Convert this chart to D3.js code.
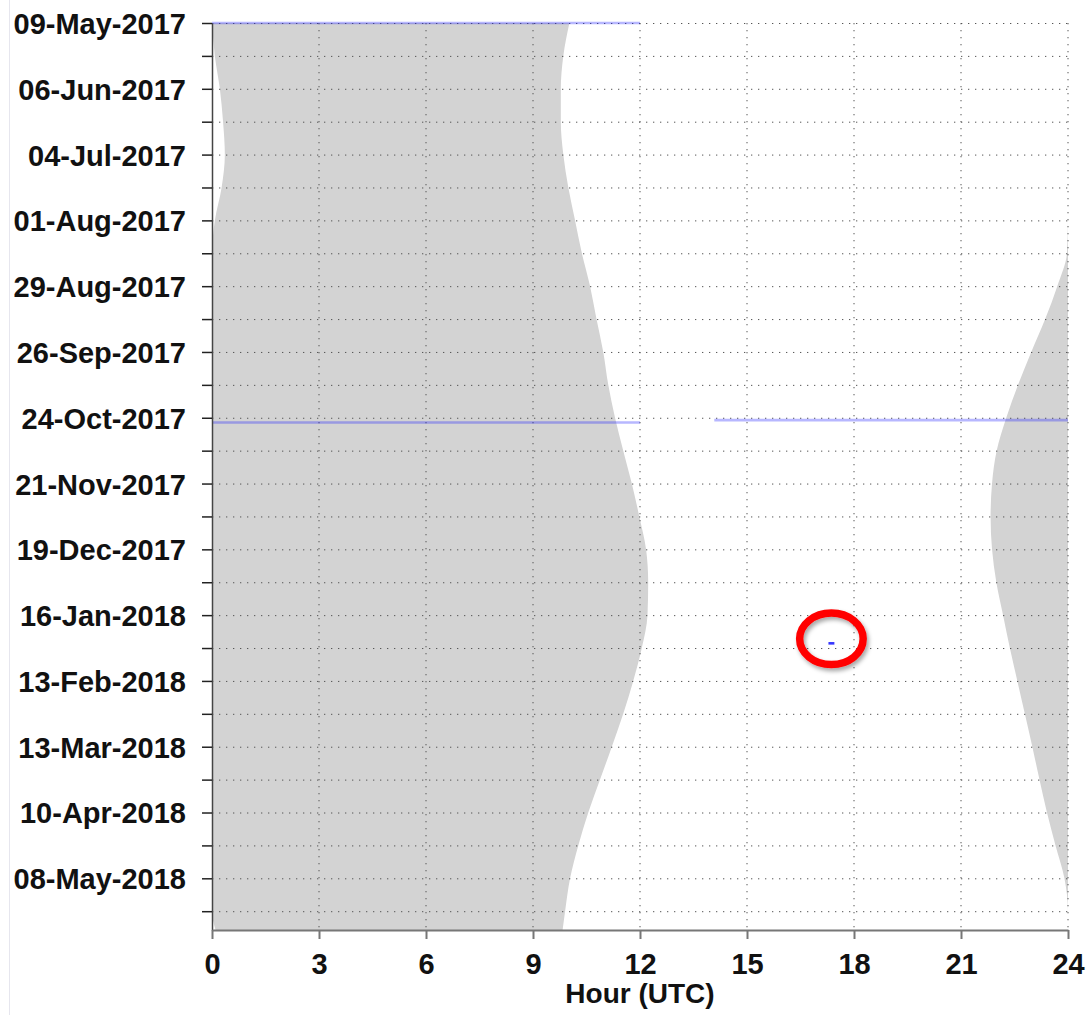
<!DOCTYPE html>
<html>
<head>
<meta charset="utf-8">
<script src="https://cdn.jsdelivr.net/npm/d3@7/dist/d3.min.js"></script>
<style>
  html, body { margin: 0; padding: 0; background: #fff; }
  svg { display: block; }
  .lbl { font-family: "Liberation Sans", Arial, Helvetica, sans-serif; font-weight: bold; fill: #111; }
</style>
</head>
<body>
<svg id="chart" width="1087" height="1015"></svg>
<script>
// Sample dates (every two weeks) for the darkness band edges
const sampleDates = ["2017-05-09","2017-05-23","2017-06-06","2017-06-20","2017-07-04","2017-07-18",
  "2017-08-01","2017-08-15","2017-08-29","2017-09-12","2017-09-26","2017-10-10","2017-10-24",
  "2017-11-07","2017-11-21","2017-12-05","2017-12-19","2018-01-02","2018-01-16","2018-01-30",
  "2018-02-13","2018-02-27","2018-03-13","2018-03-27","2018-04-10","2018-04-24","2018-05-08",
  "2018-05-22","2018-05-30"];
// Hour (UTC) when darkness begins; values above 24 fall after midnight
const darkStart = [24.00,24.08,24.22,24.31,24.36,24.27,24.08,23.97,23.70,23.36,22.97,22.60,22.27,
  22.00,21.87,21.83,21.87,21.99,22.18,22.37,22.58,22.79,23.00,23.20,23.41,23.65,23.90,24.00,24.10];
// Hour (UTC) when darkness ends
const darkEnd = [10.02,9.85,9.78,9.78,9.85,9.99,10.18,10.37,10.60,10.78,10.97,11.11,11.30,
  11.53,11.77,11.98,12.17,12.23,12.21,12.05,11.81,11.53,11.21,10.88,10.55,10.27,10.04,9.90,9.83];

// Observation intervals (UTC)
const obsStart = ["2017-05-09T00:00","2017-10-25T14:05","2018-01-28T17:17"];
const obsEnd   = ["2017-05-09T12:00","2017-10-26T12:00","2018-01-28T17:27"];

// Axis settings
const dateDomain = ["2017-05-09","2018-05-30"];
const hourTicks = [0,3,6,9,12,15,18,21,24];

const parseDay = d3.utcParse("%Y-%m-%d");
const parseTime = d3.utcParse("%Y-%m-%dT%H:%M");
const fmt = d3.utcFormat("%d-%b-%Y");

const svg = d3.select("#chart");
const plotLeft = 212, plotRight = 1068, plotTop = 23, plotBottom = 930;

const x = d3.scaleLinear().domain([0, 24]).range([plotLeft, plotRight]);
const y = d3.scaleUtc().domain(dateDomain.map(parseDay)).range([plotTop, plotBottom]);

const t0 = parseDay(dateDomain[0]);
const allDays = d3.utcDay.range(t0, y.domain()[1]);
const majorTicks = allDays.filter((d, i) => i % 28 === 0);
const minorTicks = allDays.filter((d, i) => i % 14 === 0);

// faint frame line on the far left
svg.append("line").attr("x1", 9.5).attr("x2", 9.5).attr("y1", 0).attr("y2", 1015)
  .attr("stroke", "#e6e6ee").attr("stroke-width", 1);

const rows = sampleDates.map((d, i) => ({ date: parseDay(d), start: darkStart[i], end: darkEnd[i] }));

// darkness band: morning part (after midnight) and evening part (before midnight)
const morning = d3.area()
  .y(d => y(d.date))
  .x0(d => x(Math.max(0, d.start - 24)))
  .x1(d => x(d.end))
  .curve(d3.curveMonotoneY);
const evening = d3.area()
  .y(d => y(d.date))
  .x0(d => x(Math.min(24, d.start)))
  .x1(() => x(24))
  .curve(d3.curveMonotoneY);

svg.append("path").attr("d", morning(rows)).attr("fill", "#d3d3d3");
svg.append("path").attr("d", evening(rows)).attr("fill", "#d3d3d3");

// dotted grid
const grid = svg.append("g").attr("stroke", "#555").attr("stroke-width", 1)
  .attr("stroke-dasharray", "1.3,5.7");
grid.selectAll(".hg").data(minorTicks).join("line")
  .attr("x1", plotLeft).attr("x2", plotRight)
  .attr("y1", d => y(d) + 0.5).attr("y2", d => y(d) + 0.5);
grid.selectAll(".vg").data(hourTicks.slice(1)).join("line")
  .attr("x1", d => x(d)).attr("x2", d => x(d))
  .attr("y1", plotTop).attr("y2", plotBottom);

// observation segments, split per day
const segs = [];
obsStart.forEach((s, i) => {
  const a = parseTime(s), b = parseTime(obsEnd[i]);
  d3.utcDay.range(d3.utcDay.floor(a), b).forEach(day => {
    const dayEnd = d3.utcDay.offset(day, 1);
    const s0 = a > day ? a : day, s1 = b < dayEnd ? b : dayEnd;
    segs.push({ day, h0: (s0 - day) / 3.6e6, h1: (s1 - day) / 3.6e6 });
  });
});
svg.append("g").selectAll("line").data(segs).join("line")
  .attr("x1", d => x(d.h0)).attr("x2", d => x(d.h1))
  .attr("y1", d => y(d.day)).attr("y2", d => y(d.day))
  .attr("stroke", "#2020ff")
  .attr("stroke-width", 2.6)
  .attr("stroke-opacity", d => (d.h1 - d.h0) < 1 ? 0.9 : 0.32);

// axes
const yAxis = d3.axisLeft(y).tickValues(minorTicks).tickSize(10).tickSizeOuter(0)
  .tickFormat(d => majorTicks.some(m => +m === +d) ? fmt(d) : "");
const gy = svg.append("g").attr("transform", `translate(${plotLeft},0)`).call(yAxis);
gy.select(".domain").attr("stroke", "#444").attr("stroke-width", 1.5);
gy.selectAll(".tick line").attr("stroke", "#222").attr("stroke-width", 1.5);
gy.selectAll(".tick text").attr("class", "lbl").attr("x", -26).attr("dy", "0.36em")
  .style("font-size", "29px");

const xAxis = d3.axisBottom(x).tickValues(hourTicks).tickSize(9).tickSizeOuter(0)
  .tickFormat(d3.format("d"));
const gx = svg.append("g").attr("transform", `translate(0,${plotBottom})`).call(xAxis);
gx.select(".domain").attr("stroke", "#777").attr("stroke-width", 2);
gx.selectAll(".tick line").attr("stroke", "#777").attr("stroke-width", 2);
gx.selectAll(".tick text").attr("class", "lbl").attr("y", 44).attr("dy", 0)
  .style("font-size", "29px");

svg.append("text").attr("class", "lbl")
  .attr("x", x(12)).attr("y", 1003).attr("text-anchor", "middle")
  .style("font-size", "28px").text("Hour (UTC)");

// highlight ring around the short observation
const defs = svg.append("defs");
defs.append("filter").attr("id", "shadow").attr("x", "-50%").attr("y", "-50%")
  .attr("width", "200%").attr("height", "200%")
  .append("feDropShadow").attr("dx", 2).attr("dy", 3).attr("stdDeviation", 2.2)
  .attr("flood-color", "#000").attr("flood-opacity", 0.35);
const shortSeg = segs.find(d => (d.h1 - d.h0) < 1);
svg.append("ellipse")
  .attr("cx", x((shortSeg.h0 + shortSeg.h1) / 2))
  .attr("cy", y(shortSeg.day) - 4.5)
  .attr("rx", 31.75).attr("ry", 25.75)
  .attr("fill", "none").attr("stroke", "#ff0000").attr("stroke-width", 7.5)
  .attr("filter", "url(#shadow)");
</script>
</body>
</html>
